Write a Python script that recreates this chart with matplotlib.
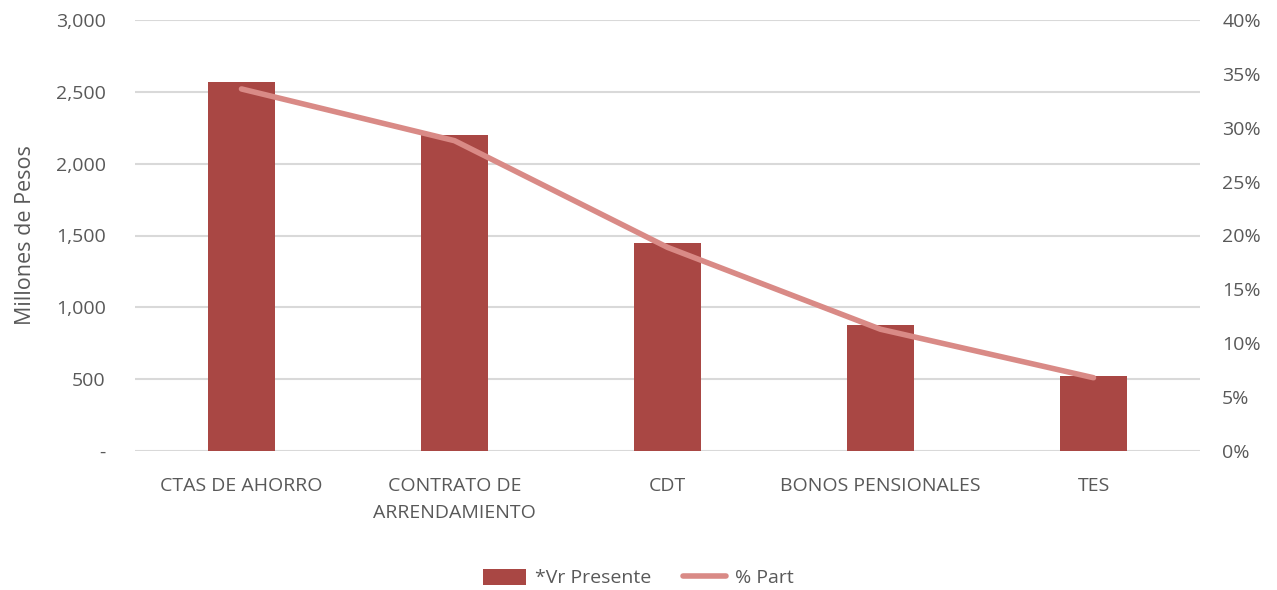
import numpy as np
import matplotlib
matplotlib.use('Agg')
import matplotlib.pyplot as plt
from matplotlib.ticker import FuncFormatter

categories = ['CTAS DE AHORRO', 'CONTRATO DE\nARRENDAMIENTO', 'CDT', 'BONOS PENSIONALES', 'TES']
vr_presente = [2570, 2200, 1450, 875, 525]
pct_part = [33.6, 28.8, 18.9, 11.3, 6.8]

bar_color = '#A94744'
line_color = '#D98A86'
text_color = '#595959'
grid_color = '#D9D9D9'

plt.rcParams['font.family'] = ['Open Sans', 'DejaVu Sans']

fig = plt.figure(figsize=(12.77, 5.9), dpi=100)
ax = fig.add_axes([135 / 1277, 1 - 451 / 590, 1065 / 1277, 431 / 590])
x_pos = np.arange(len(categories))

ax.bar(x_pos, vr_presente, width=0.315, color=bar_color, label='*Vr Presente', zorder=2)
ax.set_ylim(0, 3000)
ax.set_xlim(-0.5, len(categories) - 0.5)
ax.set_yticks(np.arange(0, 3001, 500))
ax.yaxis.set_major_formatter(FuncFormatter(lambda v, p: '-' if v == 0 else f'{v:,.0f}'))
ax.grid(axis='y', color=grid_color, linewidth=1.5, zorder=0)
ax.set_axisbelow(True)
ax.set_xticks(x_pos)
ax.set_xticklabels(categories, fontsize=14, color=text_color, linespacing=1.65)
ax.tick_params(axis='both', length=0, colors=text_color, labelsize=14)
ax.tick_params(axis='x', pad=19)
ax.tick_params(axis='y', pad=21)
for lbl in ax.get_xticklabels():
    lbl.set_verticalalignment('top')
for s in ax.spines.values():
    s.set_visible(False)
ax.set_ylabel('Millones de Pesos', fontsize=15.5, color=text_color, labelpad=14)

ax2 = ax.twinx()
ax2.plot(x_pos, pct_part, color=line_color, linewidth=4, label='% Part', zorder=3,
         solid_capstyle='round')
ax2.set_ylim(0, 40)
ax2.set_yticks(np.arange(0, 41, 5))
ax2.yaxis.set_major_formatter(FuncFormatter(lambda v, p: f'{v:.0f}%'))
ax2.tick_params(axis='y', length=0, colors=text_color, labelsize=14, pad=16)
for s in ax2.spines.values():
    s.set_visible(False)

h1, l1 = ax.get_legend_handles_labels()
h2, l2 = ax2.get_legend_handles_labels()
fig.legend(h1 + h2, l1 + l2, loc='center', bbox_to_anchor=(0.5, 1 - 578 / 590), ncol=2,
           frameon=False, fontsize=14, labelcolor=text_color, handlelength=2.2,
           handleheight=0.9, columnspacing=1.6, handletextpad=0.5)

fig.savefig('out.png', dpi=100)
